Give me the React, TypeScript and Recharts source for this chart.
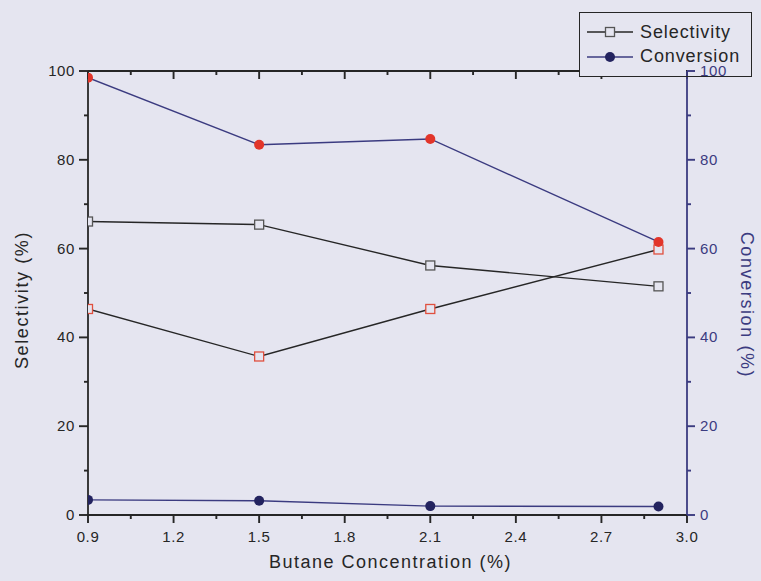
import React from 'react';
import { LineChart, Line, XAxis, YAxis, ReferenceLine } from 'recharts';

// butane concentration (%) of each run
const concentration = [0.9, 1.5, 2.1, 2.9];
// selectivity (%)
const selectivity = [66.1, 65.4, 56.2, 51.5];
const selectivityAlt = [46.4, 35.7, 46.4, 59.8];
// conversion (%)
const conversion = [3.4, 3.2, 2.0, 1.9];
const conversionAlt = [98.5, 83.4, 84.7, 61.5];

const xTicks = [0.9, 1.05, 1.2, 1.35, 1.5, 1.65, 1.8, 1.95, 2.1, 2.25, 2.4, 2.55, 2.7, 2.85, 3.0];
const yTicks = [0, 10, 20, 30, 40, 50, 60, 70, 80, 90, 100];
const legendNames = ['Selectivity', 'Conversion'];

const data = concentration.map((x, i) => ({
  x,
  selectivity: selectivity[i],
  selectivityAlt: selectivityAlt[i],
  conversion: conversion[i],
  conversionAlt: conversionAlt[i],
}));

const BG = '#e5e5f0';
const INK = '#262626';
const NAVY = '#3b3b80';
const RED = '#e2352a';
const FONT = '"Liberation Sans", Arial, sans-serif';

const isMajorX = (v: number) => Math.round(v * 100) % 30 === 0;
const isMajorY = (v: number) => v % 20 === 0;

// axis labels only; the tick marks are drawn by the reference-line shapes below
const BottomTick = (props: any) =>
  isMajorX(props.payload.value) ? (
    <text x={props.x} y={Number(props.y) + 27} textAnchor="middle" fontFamily={FONT} fontSize={15} letterSpacing={0.6} fill={INK}>
      {props.payload.value.toFixed(1)}
    </text>
  ) : (
    <g />
  );

const LeftTick = (props: any) =>
  isMajorY(props.payload.value) ? (
    <text x={Number(props.x) - 13} y={Number(props.y) + 5} textAnchor="end" fontFamily={FONT} fontSize={15} letterSpacing={0.6} fill={INK}>
      {props.payload.value}
    </text>
  ) : (
    <g />
  );

const RightTick = (props: any) =>
  isMajorY(props.payload.value) ? (
    <text x={Number(props.x) + 13} y={Number(props.y) + 5} textAnchor="start" fontFamily={FONT} fontSize={15} letterSpacing={0.6} fill={NAVY}>
      {props.payload.value}
    </text>
  ) : (
    <g />
  );

// tick marks: inward on the top frame, outward on the other three sides
const xTickMark = (major: boolean) => (p: any) => {
  const x = Number(p.x1);
  const top = Math.min(Number(p.y1), Number(p.y2));
  const bottom = Math.max(Number(p.y1), Number(p.y2));
  const len = major ? 8 : 4;
  return <path d={`M${x},${top}V${top + len}M${x},${bottom}V${bottom + len}`} stroke={INK} strokeWidth={1.9} fill="none" />;
};

const leftTickMark = (major: boolean) => (p: any) => {
  const y = Number(p.y1);
  const left = Math.min(Number(p.x1), Number(p.x2));
  return <path d={`M${left - (major ? 9 : 4)},${y}H${left}`} stroke={INK} strokeWidth={1.9} fill="none" />;
};

const rightTickMark = (major: boolean) => (p: any) => {
  const y = Number(p.y1);
  const right = Math.max(Number(p.x1), Number(p.x2));
  return <path d={`M${right},${y}H${right + (major ? 8 : 4)}`} stroke={NAVY} strokeWidth={1.9} fill="none" />;
};

const squareDot = (stroke: string) => (props: any) => {
  const { cx, cy, index } = props;
  return (
    <rect key={`sq-${index}`} x={cx - 4.5} y={cy - 4.5} width={9} height={9} fill={BG} stroke={stroke} strokeWidth={1.3} />
  );
};

// legend box: its fill hides the top frame up to the right axis, which stays visible
const LegendBox = () => (
  <svg width={173} height={65} style={{ position: 'absolute', left: 579, top: 12, pointerEvents: 'none' }}>
    <rect x={0} y={0} width={107} height={65} fill={BG} />
    <rect x={0.5} y={0.5} width={172} height={64} fill="none" stroke={INK} strokeWidth={1} />
    <line x1={8} x2={54} y1={20} y2={20} stroke={INK} strokeWidth={1.4} />
    <rect x={26.5} y={15.5} width={9} height={9} fill={BG} stroke="#555" strokeWidth={1.3} />
    <text x={61} y={26} fontFamily={FONT} fontSize={18} letterSpacing={0.9} fill={INK}>
      {legendNames[0]}
    </text>
    <line x1={8} x2={54} y1={45} y2={45} stroke={NAVY} strokeWidth={1.4} />
    <circle cx={31} cy={45} r={5} fill="#23235f" />
    <text x={61} y={50} fontFamily={FONT} fontSize={18} letterSpacing={0.9} fill={INK}>
      {legendNames[1]}
    </text>
  </svg>
);

const App: React.FC = () => {
  return (
    <div style={{ position: 'fixed', left: 0, top: 0, width: 761, height: 581, background: BG }}>
      <LineChart width={761} height={581} data={data} margin={{ top: 71, right: 0, bottom: 0, left: 0 }}>
        <XAxis
          dataKey="x"
          type="number"
          domain={[0.9, 3.0]}
          ticks={xTicks}
          interval={0}
          allowDataOverflow
          height={66}
          tickSize={0}
          tickMargin={0}
          tickLine={false}
          tick={BottomTick}
          axisLine={{ stroke: INK, strokeWidth: 1.8 }}
          label={{
            content: (p: any) => {
              const vb = p.viewBox;
              return (
                <text x={vb.x + vb.width / 2 + 3} y={vb.y + 53} textAnchor="middle" fontFamily={FONT} fontSize={18} letterSpacing={1.5} fill={INK}>
                  Butane Concentration (%)
                </text>
              );
            },
          }}
        />
        <XAxis
          xAxisId="top"
          dataKey="x"
          type="number"
          orientation="top"
          mirror
          domain={[0.9, 3.0]}
          ticks={xTicks}
          interval={0}
          allowDataOverflow
          height={10}
          tickLine={false}
          tick={false}
          axisLine={{ stroke: INK, strokeWidth: 1.8 }}
        />
        <YAxis
          yAxisId="left"
          domain={[0, 100]}
          ticks={yTicks}
          interval={0}
          width={88}
          tickSize={0}
          tickMargin={0}
          tickLine={false}
          tick={LeftTick}
          axisLine={{ stroke: INK, strokeWidth: 1.8 }}
          label={{
            content: (p: any) => {
              const vb = p.viewBox;
              const cx = vb.x + 22;
              const cy = vb.y + vb.height / 2 + 7;
              return (
                <text x={cx} y={cy} transform={`rotate(-90 ${cx} ${cy})`} textAnchor="middle" dominantBaseline="central" fontFamily={FONT} fontSize={18} letterSpacing={1.6} fill={INK}>
                  Selectivity (%)
                </text>
              );
            },
          }}
        />
        <YAxis
          yAxisId="right"
          orientation="right"
          domain={[0, 100]}
          ticks={yTicks}
          interval={0}
          width={74}
          tickSize={0}
          tickMargin={0}
          tickLine={false}
          tick={RightTick}
          axisLine={{ stroke: NAVY, strokeWidth: 1.8 }}
          label={{
            content: (p: any) => {
              const vb = p.viewBox;
              const cx = vb.x + 60;
              const cy = vb.y + vb.height / 2 + 12;
              return (
                <text x={cx} y={cy} transform={`rotate(90 ${cx} ${cy})`} textAnchor="middle" dominantBaseline="central" fontFamily={FONT} fontSize={18} letterSpacing={1.6} fill={NAVY}>
                  Conversion (%)
                </text>
              );
            },
          }}
        />
        {xTicks.map((v) => (
          <ReferenceLine key={`xt-${v}`} x={v} yAxisId="left" ifOverflow="visible" shape={xTickMark(isMajorX(v))} />
        ))}
        {yTicks.map((v) => (
          <ReferenceLine key={`lt-${v}`} y={v} yAxisId="left" ifOverflow="visible" shape={leftTickMark(isMajorY(v))} />
        ))}
        {yTicks.map((v) => (
          <ReferenceLine key={`rt-${v}`} y={v} yAxisId="right" ifOverflow="visible" shape={rightTickMark(isMajorY(v))} />
        ))}
        <Line
          yAxisId="left"
          type="linear"
          dataKey="selectivity"
          stroke={INK}
          strokeWidth={1.4}
          dot={squareDot('#555')}
          isAnimationActive={false}
        />
        <Line
          yAxisId="left"
          type="linear"
          dataKey="selectivityAlt"
          stroke={INK}
          strokeWidth={1.4}
          dot={squareDot('#e0503f')}
          isAnimationActive={false}
        />
        <Line
          yAxisId="right"
          type="linear"
          dataKey="conversion"
          stroke={NAVY}
          strokeWidth={1.4}
          dot={{ r: 5, fill: '#23235f', stroke: 'none' }}
          isAnimationActive={false}
        />
        <Line
          yAxisId="right"
          type="linear"
          dataKey="conversionAlt"
          stroke={NAVY}
          strokeWidth={1.4}
          dot={{ r: 5, fill: RED, stroke: 'none' }}
          isAnimationActive={false}
        />
      </LineChart>
      <LegendBox />
    </div>
  );
};

export default App;
